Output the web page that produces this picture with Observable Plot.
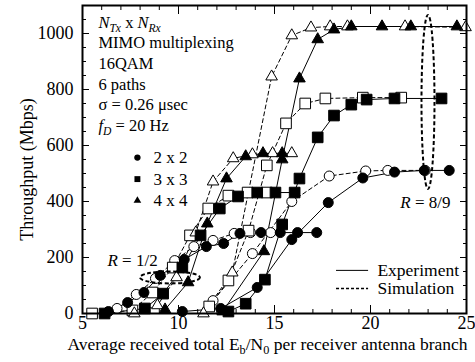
<!DOCTYPE html>
<html><head><meta charset="utf-8">
<script src="https://cdn.jsdelivr.net/npm/d3@7"></script>
<script src="https://cdn.jsdelivr.net/npm/@observablehq/plot@0.6"></script>
<style>
html,body{margin:0;padding:0;background:#fff}
#chart svg{display:block}
</style>
</head><body><div id="chart"></div>
<script>
// ---- axis ticks ----
const xTicks = [5, 10, 15, 20, 25];
const yTicks = [0, 200, 400, 600, 800, 1000];

// ---- series: [Eb/N0 (dB), throughput (Mbps)] ----
// 2 x 2
const exp22Half = [[6.35,7],[7.35,39],[8.2,75],[9.05,136],[10.3,193],[11.45,239],[12.35,250],[13.2,286],[14.3,289],[15.3,289],[16.2,289],[17.2,289]];
const sim22Half = [[6.8,18],[7.8,68],[8.8,125],[9.8,189],[10.8,239],[11.8,261],[12.9,286],[13.75,289],[14.8,289]];
const exp22High = [[10.2,7],[12.2,18],[14.1,93],[15.9,264],[17.8,396],[19.6,484],[21.25,505],[22.8,511],[24.1,511]];
const sim22High = [[11.8,46],[13.85,214],[15.9,400],[17.85,491],[19.75,509],[20.9,511],[22.85,511]];
// 3 x 3
const exp33Half = [[6.15,0],[8.25,18],[9.2,71],[10.2,164],[11.15,279],[12.15,375],[13.1,418],[14.1,432],[15.05,432],[16.05,432]];
const sim33Half = [[5.5,0],[7.6,11],[8.65,75],[9.7,164],[10.6,279],[11.55,375],[12.6,421],[13.6,432],[14.6,432]];
const exp33High = [[12.6,7],[13.5,35],[14.5,121],[15.4,318],[16.3,482],[17.25,629],[18.1,707],[19.0,746],[19.8,764],[21.25,768],[23.7,768]];
const sim33High = [[11.6,25],[12.6,118],[13.65,296],[14.6,529],[15.6,679],[16.6,750],[17.65,768],[19.6,771],[21.6,771]];
// 4 x 4
const exp44Half = [[9.3,14],[10.5,111],[11.5,321],[12.5,482],[13.5,561],[14.4,572],[15.4,572]];
const sim44Half = [[7.7,0],[8.9,29],[9.9,129],[10.9,289],[11.8,471],[12.85,554],[13.85,568],[14.9,572],[15.9,572]];
const exp44High = [[12.3,7],[14.45,222],[15.4,550],[16.3,839],[17.25,979],[18.1,1014],[19.0,1025],[20.6,1025],[22.1,1025],[24.5,1025]];
const sim44High = [[11.3,0],[12.8,146],[14.85,846],[15.9,993],[16.9,1021],[17.9,1025],[18.8,1025],[21.8,1025],[24.95,1022]];

// ---- texts ----
const infoLines = ["NTx x NRx", "MIMO multiplexing", "16QAM", "6 paths", "σ = 0.26 μsec", "fD = 20 Hz"];
const configNames = ["2 x 2", "3 x 3", "4 x 4"];
const configSymbols = ["circle", "square", "triangle"];
const typeNames = ["Experiment", "Simulation"];
const rateLabels = ["R = 1/2", "R = 8/9"];
const xLabel = "Average received total Eb/N0 per receiver antenna branch";
const yLabel = "Throughput (Mbps)";

const rich = {
  "NTx x NRx": [["N","i"],["Tx","si"],[" x ",""],["N","i"],["Rx","si"]],
  "fD = 20 Hz": [["f","i"],["D","si"],[" = 20 Hz",""]],
  "R = 1/2": [["R","i"],[" = 1/2",""]],
  "R = 8/9": [["R","i"],[" = 8/9",""]],
  [xLabel]: [["Average received total E",""],["b","s"],["/N",""],["0","s"],[" per receiver antenna branch",""]]
};

const X = d => d[0], Y = d => d[1];
const symR = {circle: 5, square: 6, triangle: 4.3};
function line(data, filled) {
  return Plot.line(data, {x: X, y: Y, stroke: "black", strokeWidth: 1, strokeDasharray: filled ? null : "4,3"});
}
function dots(data, sym, filled) {
  return Plot.dot(data, {x: X, y: Y, symbol: sym, r: symR[sym], fill: filled ? "black" : "white", stroke: "black", strokeWidth: 1});
}
const xMinor = d3.range(5, 25.01, 1);
const yMinor = d3.range(0, 1100.01, 50);
const noText = () => "";

const chart = Plot.plot({
  width: 475, height: 362,
  marginLeft: 82, marginRight: 9, marginTop: 5, marginBottom: 49,
  style: {fontFamily: "'Liberation Serif','Times New Roman',serif", fontSize: "16px", background: "white", color: "black", overflow: "visible"},
  x: {domain: [5, 25]},
  y: {domain: [0, 1100]},
  marks: [
    // inward ticks on all four sides
    Plot.axisX({anchor: "bottom", ticks: xMinor, tickSize: -4, tickFormat: noText, label: null}),
    Plot.axisX({anchor: "bottom", ticks: xTicks, tickSize: -8, tickFormat: noText, label: null}),
    Plot.axisX({anchor: "top", ticks: xMinor, tickSize: -4, tickFormat: noText, label: null}),
    Plot.axisX({anchor: "top", ticks: xTicks, tickSize: -8, tickFormat: noText, label: null}),
    Plot.axisY({anchor: "left", ticks: yMinor, tickSize: -4, tickFormat: noText, label: null}),
    Plot.axisY({anchor: "left", ticks: yTicks, tickSize: -7, tickFormat: noText, label: null}),
    Plot.axisY({anchor: "right", ticks: yMinor, tickSize: -4, tickFormat: noText, label: null}),
    Plot.axisY({anchor: "right", ticks: yTicks, tickSize: -7, tickFormat: noText, label: null}),
    // tick labels
    Plot.axisX({anchor: "bottom", ticks: xTicks, tickSize: 0, tickPadding: 3, tickFormat: d => String(d), fontSize: 18, label: null}),
    Plot.axisY({anchor: "left", ticks: yTicks, tickSize: 0, tickPadding: 9, tickFormat: d => String(d), fontSize: 18, label: null}),
    // axis titles
    Plot.text([xLabel], {text: d => d, frameAnchor: "bottom", dy: 36, dx: -7, fontSize: 17.5}),
    Plot.text([yLabel], {text: d => d, x: 5, y: 514, rotate: -90, dx: -55, textAnchor: "middle", fontSize: 18}),
    // lines
    line(sim22Half, false), line(exp22Half, true),
    line(sim33Half, false), line(exp33Half, true),
    line(sim44Half, false), line(exp44Half, true),
    line(sim22High, false), line(exp22High, true),
    line(sim33High, false), line(exp33High, true),
    line(sim44High, false), line(exp44High, true),
    // markers
    dots(sim22Half, "circle", false), dots(sim33Half, "square", false), dots(sim44Half, "triangle", false),
    dots(sim22High, "circle", false), dots(sim33High, "square", false), dots(sim44High, "triangle", false),
    dots(exp22Half, "circle", true), dots(exp33Half, "square", true), dots(exp44Half, "triangle", true),
    dots(exp22High, "circle", true), dots(exp33High, "square", true), dots(exp44High, "triangle", true),
    // info block
    Plot.text(infoLines, {x: 5.83, y: (d, i) => 1039 - i * 73.6, text: d => d, textAnchor: "start", fontSize: 16.5}),
    // symbol legend
    Plot.dot(configNames, {x: 7.86, y: (d, i) => 557 - i * 77, symbol: (d, i) => configSymbols[i], r: (d, i) => [6.5, 7.3, 5.3][i], fill: "black"}),
    Plot.text(configNames, {x: 8.7, y: (d, i) => 557 - i * 77, text: d => d, textAnchor: "start", fontSize: 17}),
    // rate labels
    Plot.text([rateLabels[0]], {x: 6.3, y: 189, text: d => d, textAnchor: "start", fontSize: 17}),
    Plot.text([rateLabels[1]], {x: 24.17, y: 396, text: d => d, textAnchor: "end", fontSize: 17}),
    // line legend
    Plot.ruleY([154], {x1: 18.23, x2: 19.9, y: d => d, stroke: "black", strokeWidth: 1}),
    Plot.ruleY([89], {x1: 18.23, x2: 19.9, y: d => d, stroke: "black", strokeWidth: 1.5, strokeDasharray: "3,2"}),
    Plot.text(typeNames, {x: 20.36, y: (d, i) => [154, 89][i], text: d => d, textAnchor: "start", fontSize: 17.5}),
    Plot.frame({stroke: "black", strokeWidth: 2})
  ]
});
document.getElementById("chart").appendChild(chart);

const svg = d3.select(chart);
// drop empty tick-label texts
svg.selectAll("text").filter(function() { return this.textContent === ""; }).remove();

// ellipses marking the coding-rate groups (placed through Plot's scales)
const sx = chart.scale("x"), sy = chart.scale("y");
[[9.58, 127, 30, 6], [23.02, 754, 6.5, 87]].forEach(([cx, cy, rx, ry]) => {
  svg.append("ellipse")
    .attr("cx", sx.apply(cx)).attr("cy", sy.apply(cy)).attr("rx", rx).attr("ry", ry)
    .attr("fill", "none").attr("stroke", "black").attr("stroke-width", 2).attr("stroke-dasharray", "4,2.5");
});

// rich text: italics and subscripts
svg.selectAll("text").each(function() {
  const spec = rich[this.textContent];
  if (!spec) return;
  const t = d3.select(this);
  t.text(null);
  let back = 0;
  spec.forEach(([s, f]) => {
    const ts = t.append("tspan").text(s);
    if (f.includes("i")) ts.attr("font-style", "italic");
    if (f.includes("s")) { ts.attr("font-size", "0.7em").attr("dy", 4 - back); back = 4; }
    else if (back) { ts.attr("dy", -back); back = 0; }
  });
});
</script>
</body></html>
